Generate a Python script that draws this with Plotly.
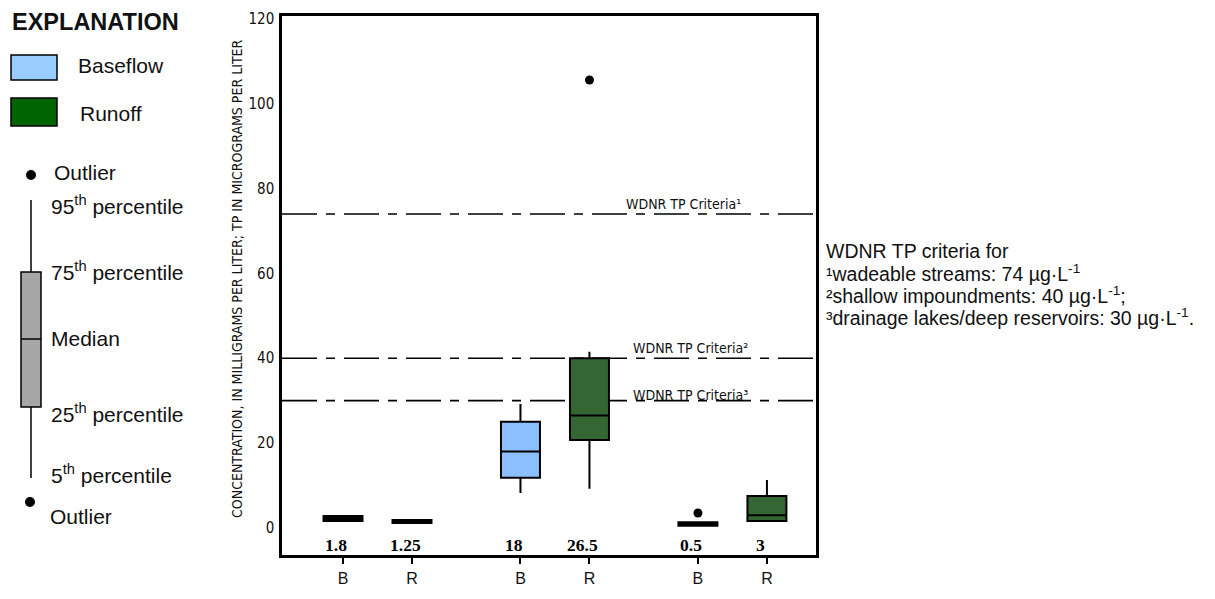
import plotly.graph_objects as go

# ---------------- data ----------------
groups = ["CHLORIDE", "TP", "TSS"]
cat_labels = ["B", "R", "B", "R", "B", "R"]
q1 = [1.6, 1.15, 11.8, 20.7, 0.5, 1.6]
median = [1.8, 1.25, 18, 26.5, 0.5, 3]
q3 = [2.8, 1.85, 25.0, 40.0, 1.3, 7.5]
lower = [1.6, 1.15, 8.2, 9.2, 0.5, 1.4]
upper = [2.8, 1.85, 29.2, 41.5, 1.3, 11.3]
median_labels = ["1.8", "1.25", "18", "26.5", "0.5", "3"]
outlier_cat = [3, 4]
outlier_val = [105.6, 3.5]
criteria = [74, 40, 30]
criteria_labels = ["WDNR TP Criteria¹", "WDNR TP Criteria²", "WDNR TP Criteria³"]
y_ticks = [0, 20, 40, 60, 80, 100, 120]

# ---------------- style / layout ----------------
# page has an 8px body margin, so the figure is 8px smaller than the window
W, H = 1207, 591
L, R, T, B = 274, 399, 8, 44
PW, PH = W - L - R, H - T - B
GAP = 2.572
xpos = []
for g in range(3):
    xpos += [1 + g * GAP, 2 + g * GAP]
XR = [0.116, 0.116 + PW / 69.0]
YR = [-6.4, 120.7]

BLUE = "#8cbfff"
GREEN = "#336633"
fills = ["black", "black", BLUE, GREEN, "black", GREEN]
NARROW = "Liberation Sans Narrow, DejaVu Sans Condensed, Arial Narrow, Liberation Sans, Arial"
SANS = "Liberation Sans, Arial"
TXT = "#111111"


def px(x):  # page pixel -> paper
    return (x - 8 - L) / PW


def py(y):
    return (H - B - (y - 8)) / PH


fig = go.Figure()
for i in range(6):
    fig.add_trace(go.Box(
        x=[xpos[i]], q1=[q1[i]], median=[median[i]], q3=[q3[i]],
        lowerfence=[lower[i]], upperfence=[upper[i]],
        width=0.565, whiskerwidth=0, fillcolor=fills[i],
        line=dict(color="black", width=2), boxpoints=False,
        showlegend=False, hoverinfo="skip"))

fig.add_trace(go.Scatter(
    x=[xpos[c] for c in outlier_cat], y=outlier_val, mode="markers",
    marker=dict(color="black", size=9), showlegend=False, hoverinfo="skip"))

shapes = []
annotations = []
for v in criteria:
    shapes.append(dict(type="line", xref="paper", yref="y", x0=0, x1=1, y0=v, y1=v,
                       line=dict(color="black", width=1.6, dash="35px,9px,9px,9px"),
                       layer="below"))
lab_x = [5.93, 6.04, 6.04]
lab_shift = [0, 0, -4]
for v, lab, lx, s in zip(criteria, criteria_labels, lab_x, lab_shift):
    annotations.append(dict(x=lx, y=v, xref="x", yref="y", text=lab, showarrow=False,
                            xanchor="center", yanchor="bottom", yshift=s,
                            font=dict(family=NARROW, size=14, color=TXT)))

for i in range(6):
    annotations.append(dict(x=xpos[i] - 0.1, y=-4.1, xref="x", yref="y", text=median_labels[i],
                            showarrow=False, xanchor="center", yanchor="middle",
                            font=dict(family="Liberation Serif, Times New Roman", size=17.5,
                                      color="black", weight="bold")))

for g, name in enumerate(groups):
    annotations.append(dict(x=(xpos[2 * g] + xpos[2 * g + 1]) / 2, y=py(593), xref="x", yref="paper",
                            text=name, showarrow=False, xanchor="center", yanchor="top",
                            font=dict(family=SANS, size=15, color=TXT)))

# y title
annotations.append(dict(x=px(237), y=py(279), xref="paper", yref="paper", textangle=-90,
                        text="CONCENTRATION, IN MILLIGRAMS PER LITER; TP IN MICROGRAMS PER LITER",
                        showarrow=False, xanchor="center", yanchor="middle",
                        font=dict(family=NARROW, size=14, color=TXT)))

# right note
note = ["WDNR TP criteria for",
        "¹wadeable streams: 74 µg·L<sup>-1</sup>",
        "²shallow impoundments: 40 µg·L<sup>-1</sup>;",
        "³drainage lakes/deep reservoirs: 30 µg·L<sup>-1</sup>."]
for k, line in enumerate(note):
    annotations.append(dict(x=px(824), y=py(250.5 + 22 * k), xref="paper", yref="paper",
                            text=line, showarrow=False, xanchor="left", yanchor="middle",
                            font=dict(family=SANS, size=19.5, color=TXT)))


# explanation
def ptext(x, y, text, size=21, bold=False):
    annotations.append(dict(x=px(x), y=py(y), xref="paper", yref="paper", text=text,
                            showarrow=False, xanchor="left", yanchor="middle",
                            font=dict(family=SANS, size=size, color=TXT,
                                      weight="bold" if bold else "normal")))


def prect(x0, y0, x1, y1, fill, w=1.5):
    shapes.append(dict(type="rect", xref="paper", yref="paper", x0=px(x0), x1=px(x1),
                       y0=py(y1), y1=py(y0), fillcolor=fill, line=dict(color="black", width=w)))


def pline(x0, y0, x1, y1, w=1.5):
    shapes.append(dict(type="line", xref="paper", yref="paper", x0=px(x0), x1=px(x1),
                       y0=py(y0), y1=py(y1), line=dict(color="black", width=w)))


def pdot(x, y, r=5):
    shapes.append(dict(type="circle", xref="paper", yref="paper", x0=px(x - r), x1=px(x + r),
                       y0=py(y + r), y1=py(y - r), fillcolor="black", line=dict(color="black", width=0)))


ptext(10, 22, "EXPLANATION", size=23.5, bold=True)
prect(11, 55, 57, 80, "#99ccff")
ptext(76, 66, "Baseflow")
prect(11, 98, 57, 126, "#006400")
ptext(78, 113, "Runoff")
pdot(31, 175)
ptext(52, 173, "Outlier")
pline(31, 200, 31, 272)
prect(21, 272, 41, 407, "#a6a6a6")
pline(21, 339, 41, 339)
pline(31, 407, 31, 478)
pdot(30, 502)
ptext(49, 205, "95<sup>th</sup> percentile")
ptext(49, 271, "75<sup>th</sup> percentile")
ptext(49, 338, "Median")
ptext(49, 413, "25<sup>th</sup> percentile")
ptext(49, 474, "5<sup>th</sup> percentile")
ptext(48, 516, "Outlier")

fig.update_layout(
    width=W, height=H, margin=dict(l=L, r=R, t=T, b=B, autoexpand=False),
    paper_bgcolor="white", plot_bgcolor="white",
    shapes=shapes, annotations=annotations, showlegend=False,
    xaxis=dict(range=XR, tickvals=xpos, ticktext=cat_labels, ticks="outside", ticklen=6,
               tickwidth=2, tickcolor="black", showgrid=False, zeroline=False,
               showline=True, mirror=True, linecolor="black", linewidth=2.5,
               tickfont=dict(family=SANS, size=16, color=TXT), ticklabelstandoff=1),
    yaxis=dict(range=YR, tickvals=y_ticks, ticks="", showgrid=False, zeroline=False,
               showline=True, mirror=True, linecolor="black", linewidth=2.5,
               tickfont=dict(family=NARROW, size=15, color=TXT), ticklabelstandoff=2),
)

fig.write_html("out.html")
